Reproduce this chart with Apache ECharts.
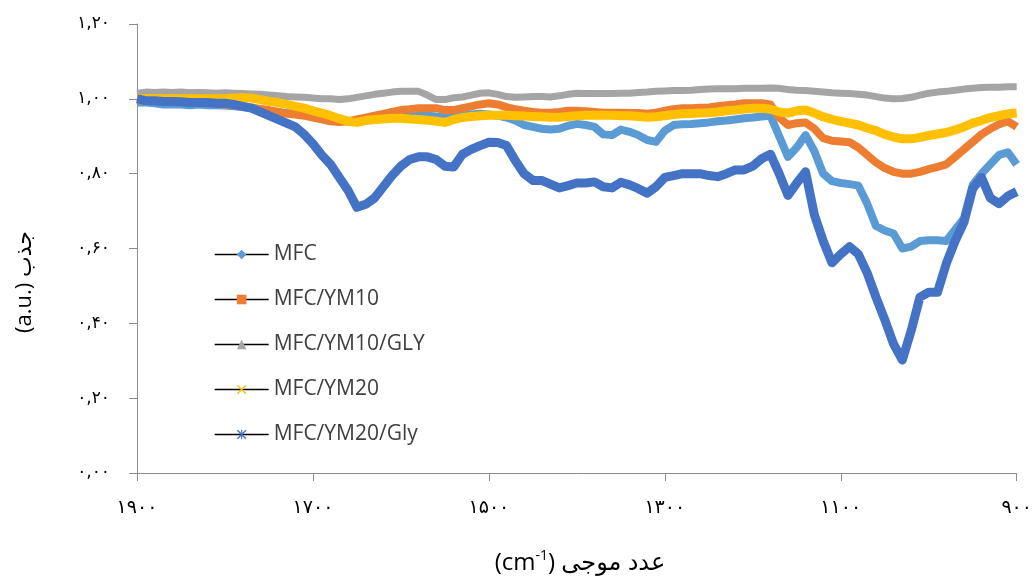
<!DOCTYPE html>
<html><head><meta charset="utf-8">
<script src="https://cdn.jsdelivr.net/npm/echarts@6/dist/echarts.min.js"></script>
<style>html,body{margin:0;padding:0;background:#fff}#c{width:1035px;height:579px}</style>
</head><body><div id="c"></div>
<script>
const wavenumbers = [1900,1890,1880,1870,1860,1850,1840,1830,1820,1810,
1800,1790,1780,1770,1760,1750,1740,1730,1720,1710,
1700,1690,1680,1670,1660,1650,1640,1630,1620,1610,
1600,1590,1580,1570,1560,1550,1540,1530,1520,1510,
1500,1490,1480,1470,1460,1450,1440,1430,1420,1410,
1400,1390,1380,1370,1360,1350,1340,1330,1320,1310,
1300,1290,1280,1270,1260,1250,1240,1230,1220,1210,
1200,1190,1180,1170,1160,1150,1140,1130,1120,1110,
1100,1090,1080,1070,1060,1050,1040,1030,1020,1010,
1000,990,980,970,960,950,940,930,920,910,
900];

const seriesNames = ['MFC','MFC/YM10','MFC/YM10/GLY','MFC/YM20','MFC/YM20/Gly'];

const mfc = [0.99,0.99,0.988,0.985,0.985,0.985,0.983,0.985,0.983,0.983,
0.982,0.98,0.978,0.975,0.972,0.968,0.965,0.962,0.96,0.957,
0.953,0.95,0.948,0.945,0.94,0.94,0.943,0.945,0.948,0.95,
0.952,0.953,0.955,0.955,0.953,0.952,0.953,0.955,0.958,0.96,
0.958,0.955,0.95,0.942,0.93,0.925,0.92,0.918,0.92,0.928,
0.933,0.93,0.925,0.905,0.903,0.918,0.912,0.903,0.89,0.885,
0.915,0.93,0.932,0.933,0.935,0.937,0.94,0.942,0.945,0.948,
0.95,0.953,0.955,0.90,0.845,0.87,0.903,0.86,0.80,0.78,
0.775,0.772,0.768,0.72,0.66,0.648,0.64,0.60,0.605,0.62,
0.622,0.622,0.62,0.65,0.68,0.77,0.80,0.825,0.85,0.857,
0.825];

const mfcYm10 = [0.995,0.995,0.995,0.995,0.993,0.993,0.99,0.99,0.99,0.988,
0.985,0.983,0.98,0.977,0.973,0.97,0.965,0.96,0.958,0.955,
0.95,0.945,0.94,0.938,0.94,0.945,0.95,0.955,0.96,0.965,
0.97,0.972,0.975,0.975,0.975,0.97,0.97,0.975,0.98,0.985,
0.988,0.985,0.978,0.972,0.968,0.965,0.963,0.963,0.965,0.968,
0.968,0.967,0.965,0.963,0.963,0.963,0.962,0.962,0.96,0.963,
0.968,0.972,0.975,0.975,0.976,0.977,0.98,0.983,0.985,0.988,
0.988,0.988,0.985,0.95,0.93,0.935,0.937,0.92,0.895,0.888,
0.886,0.884,0.87,0.85,0.83,0.815,0.805,0.80,0.80,0.805,
0.812,0.818,0.825,0.845,0.865,0.885,0.905,0.92,0.932,0.94,
0.925];

const mfcYm10Gly = [1.015,1.018,1.017,1.018,1.017,1.018,1.016,1.017,1.016,1.015,
1.016,1.015,1.014,1.013,1.012,1.01,1.008,1.006,1.005,1.004,
1.002,1.0,1.0,0.998,1.0,1.004,1.008,1.012,1.015,1.018,
1.02,1.02,1.02,1.01,0.998,0.998,1.003,1.005,1.01,1.015,
1.016,1.012,1.006,1.004,1.005,1.006,1.006,1.005,1.008,1.012,
1.015,1.014,1.014,1.014,1.014,1.015,1.015,1.017,1.018,1.02,
1.021,1.022,1.022,1.023,1.025,1.026,1.027,1.027,1.027,1.028,
1.028,1.028,1.029,1.028,1.025,1.023,1.022,1.02,1.018,1.016,
1.015,1.014,1.012,1.01,1.006,1.002,1.0,1.001,1.004,1.01,
1.015,1.018,1.02,1.023,1.026,1.028,1.03,1.031,1.031,1.032,
1.032];

const mfcYm20 = [1.0,1.0,1.0,1.0,1.0,1.0,1.0,1.0,1.0,1.0,
1.0,1.002,1.003,1.002,0.998,0.993,0.99,0.985,0.98,0.975,
0.968,0.962,0.955,0.947,0.94,0.937,0.942,0.945,0.946,0.948,
0.948,0.946,0.945,0.943,0.94,0.937,0.945,0.95,0.953,0.955,
0.956,0.956,0.956,0.955,0.954,0.953,0.952,0.951,0.951,0.953,
0.955,0.956,0.956,0.956,0.956,0.955,0.955,0.953,0.951,0.952,
0.955,0.958,0.96,0.961,0.962,0.963,0.965,0.968,0.97,0.973,
0.975,0.975,0.972,0.965,0.962,0.968,0.97,0.962,0.952,0.945,
0.94,0.935,0.93,0.922,0.915,0.905,0.898,0.893,0.893,0.897,
0.902,0.906,0.91,0.917,0.925,0.935,0.942,0.95,0.955,0.96,
0.962];

const mfcYm20Gly = [1.0,0.995,0.995,0.993,0.993,0.992,0.99,0.99,0.99,0.988,
0.988,0.985,0.98,0.975,0.965,0.955,0.945,0.935,0.925,0.905,
0.88,0.85,0.825,0.79,0.755,0.71,0.718,0.735,0.765,0.795,
0.82,0.838,0.845,0.845,0.838,0.82,0.818,0.852,0.865,0.875,
0.884,0.883,0.875,0.835,0.80,0.782,0.782,0.772,0.762,0.768,
0.775,0.775,0.778,0.765,0.762,0.777,0.77,0.76,0.748,0.765,
0.79,0.795,0.80,0.80,0.80,0.795,0.792,0.80,0.81,0.81,
0.82,0.84,0.852,0.80,0.742,0.775,0.805,0.69,0.62,0.562,
0.585,0.605,0.585,0.535,0.47,0.41,0.345,0.302,0.38,0.47,
0.483,0.483,0.56,0.62,0.67,0.76,0.79,0.735,0.72,0.74,
0.752];

const xTickValues = [900,1100,1300,1500,1700,1900];
const xTickLabels = ['۹۰۰','۱۱۰۰','۱۳۰۰','۱۵۰۰','۱۷۰۰','۱۹۰۰'];
const yTickValues = [0,0.2,0.4,0.6,0.8,1.0,1.2];
const yTickLabels = ['۰,۰۰','۰,۲۰','۰,۴۰','۰,۶۰','۰,۸۰','۱,۰۰','۱,۲۰'];

const colors = ['#5B9BD5','#ED7D31','#A5A5A5','#FFC000','#4472C4'];
const xPath = 'path://M0,1L1,0L5,4L9,0L10,1L6,5L10,9L9,10L5,6L1,10L0,9L4,5Z';
const starPath = 'path://M0,1L1,0L5,4L9,0L10,1L6,5L10,9L9,10L5,6L1,10L0,9L4,5Z M4.4,0L5.6,0L5.6,10L4.4,10Z';
const symbols = ['diamond','rect','triangle', xPath, starPath];
const widths = [8,8,7,9,9];
const allValues = [mfc, mfcYm10, mfcYm10Gly, mfcYm20, mfcYm20Gly];

function lookup(vals, labels, v){
  for (let i=0;i<vals.length;i++) if (Math.abs(vals[i]-v)<1e-6) return labels[i];
  return '';
}

const chart = echarts.init(document.getElementById('c'), null, {renderer:'canvas'});
chart.setOption({
  animation:false,
  backgroundColor:'#fff',
  grid:{left:137,right:18,top:24,bottom:106,containLabel:false},
  xAxis:{
    type:'value', min:900, max:1900, interval:200, inverse:true,
    axisLine:{show:true,lineStyle:{color:'#8c8c8c',width:1}},
    axisTick:{show:true,length:8,lineStyle:{color:'#8c8c8c'}},
    splitLine:{show:false},
    axisLabel:{margin:26,color:'#000',fontSize:19,fontFamily:'DejaVu Sans',
      formatter:v=>lookup(xTickValues,xTickLabels,v)}
  },
  yAxis:{
    type:'value', min:0, max:1.2, interval:0.2,
    axisLine:{show:true,lineStyle:{color:'#8c8c8c',width:1}},
    axisTick:{show:true,length:8,lineStyle:{color:'#8c8c8c'}},
    splitLine:{show:false},
    axisLabel:{margin:27,color:'#000',fontSize:17,fontFamily:'DejaVu Sans',
      formatter:v=>lookup(yTickValues,yTickLabels,v)}
  },
  legend:{
    orient:'vertical', left:209, top:239, itemWidth:54, itemHeight:12, itemGap:24,
    selectedMode:false,
    lineStyle:{color:'#000',width:1.3},
    textStyle:{fontSize:21,color:'#404040',fontFamily:'Open Sans',lineHeight:20},
    data:seriesNames
  },
  graphic:[
    {type:'text', x:25, y:282, rotation:Math.PI/2,
      style:{text:'(a.u.) جذب', fontSize:22, fontFamily:"'Open Sans','DejaVu Sans'", fill:'#000', align:'center', verticalAlign:'middle'}},
    {type:'text', x:580, y:563,
      style:{text:'{a|(cm}{s|-1}{a|) عدد موجی}', align:'center', verticalAlign:'middle',
        rich:{a:{fontSize:24,fontFamily:"'Open Sans','DejaVu Sans'",fill:'#000',lineHeight:28},
              s:{fontSize:14,fontFamily:"'Open Sans'",fill:'#000',lineHeight:14,verticalAlign:'top'}}}}
  ],
  series: seriesNames.map((name,k)=>({
    name:name, type:'line',
    data: wavenumbers.map((w,i)=>[w, allValues[k][i]]),
    showSymbol:false, symbol:symbols[k], symbolSize:10,
    lineStyle:{color:colors[k], width:widths[k], join:'round'},
    itemStyle:{color:colors[k]},
    smooth:false
  }))
});
</script>
</body></html>
